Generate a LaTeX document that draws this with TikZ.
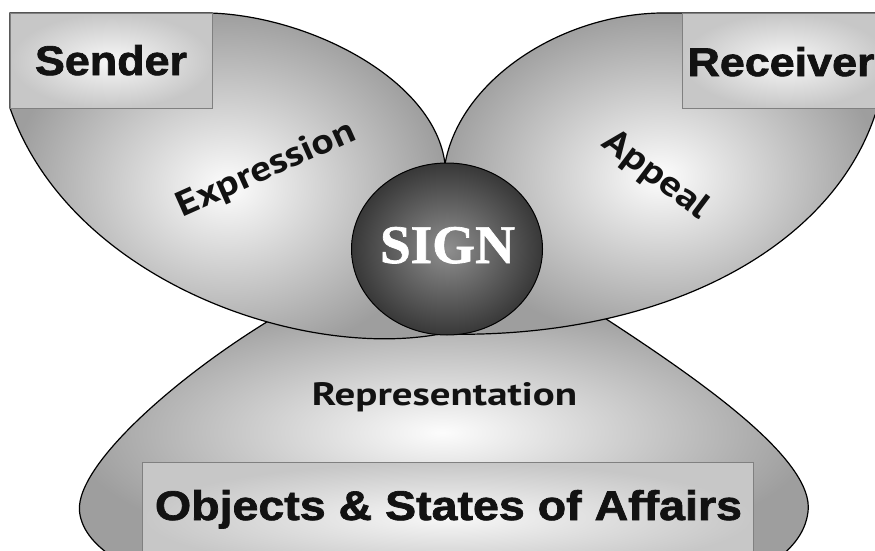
\documentclass[tikz,border=0pt]{standalone}
\usepackage{fontspec}
\usetikzlibrary{shapes.geometric}
\newfontfamily\boxfont[BoldFeatures={FakeBold=1.6}]{Liberation Sans}
\newfontfamily\signfont[BoldFeatures={FakeBold=1.2}]{Liberation Serif}
\newfontfamily\handfont{PT Sans}
\definecolor{pedge}{gray}{0.62}
\definecolor{pin}{gray}{0.99}
\definecolor{bedge}{gray}{0.78}
\definecolor{bin}{gray}{0.97}
\definecolor{bline}{gray}{0.5}
\definecolor{sin}{gray}{0.56}
\definecolor{sout}{gray}{0.22}
\definecolor{ink}{gray}{0.07}
\begin{document}
\begin{tikzpicture}[x=1pt,y=-1pt,
  region/.style={draw=black, line width=1.2pt, inner color=pin, outer color=pedge},
  labelbox/.style={draw=bline, line width=1pt, inner color=bin, outer color=bedge, rectangle, inner sep=0pt},
  boxtext/.style={anchor=base, inner sep=0pt, text=ink},
  handtext/.style={anchor=base, inner sep=0pt, text=ink}]
\clip (0,0) rectangle (875,551);
\fill[white] (0,0) rectangle (875,551);

% lower region (Representation)
\shade[region] (440,300) -- (275,317)
  .. controls (175,377) and (70,470) .. (80,515)
  .. controls (84,535) and (100,550) .. (125,565)
  -- (770,565)
  .. controls (790,550) and (805,535) .. (808,512)
  .. controls (815,460) and (700,380) .. (600,315) -- cycle;

% left petal (Expression)
\shade[region] (10,108) -- (10,13) -- (210,13)
  .. controls (310,16) and (435,80) .. (445,164)
  -- (440,334)
  .. controls (300,360) and (70,280) .. (10,108) -- cycle;

% right petal (Appeal)
\shade[region] (445,164)
  .. controls (460,80) and (560,15) .. (660,13)
  -- (880,13) -- (880,115) -- (875,115)
  .. controls (830,250) and (660,340) .. (440,334) -- cycle;

% boxes
\node[labelbox, minimum width=202pt, minimum height=95pt, anchor=north west] (senderbox) at (10,13) {};
\node[labelbox, minimum width=205pt, minimum height=95pt, anchor=north west] (receiverbox) at (682,13) {};
\node[labelbox, minimum width=611pt, minimum height=110pt, anchor=north west] (objbox) at (142,462) {};

% sign
\node[ellipse, draw=black, line width=1pt, inner color=sin, outer color=sout,
      minimum width=191pt, minimum height=172pt, inner sep=0pt] (sign) at (447,249) {};

% texts
\node[boxtext] (sender) at (111,75) {\resizebox{152pt}{30pt}{\boxfont\bfseries Sender}};
\node[boxtext] (receiver) at (781,76) {\resizebox{187pt}{29pt}{\boxfont\bfseries Receiver}};
\node[boxtext] (objects) at (448.5,520) {\resizebox{587pt}{30pt}{\boxfont\bfseries Objects \& States of Affairs}};
\node[anchor=base, inner sep=0pt, text=white] (signtext) at (447.5,263) {\resizebox{135pt}{36pt}{\signfont\bfseries SIGN}};
\node[handtext] (repr) at (444.5,405) {\resizebox{265pt}{23pt}{\handfont\bfseries Representation}};
\node[handtext, rotate=24] (expr) at (270,178) {\resizebox{192pt}{25pt}{\handfont\bfseries Expression}};
\node[handtext, rotate=-37] (appeal) at (650,183) {\resizebox{124pt}{25pt}{\handfont\bfseries Appeal}};
\end{tikzpicture}
\end{document}
